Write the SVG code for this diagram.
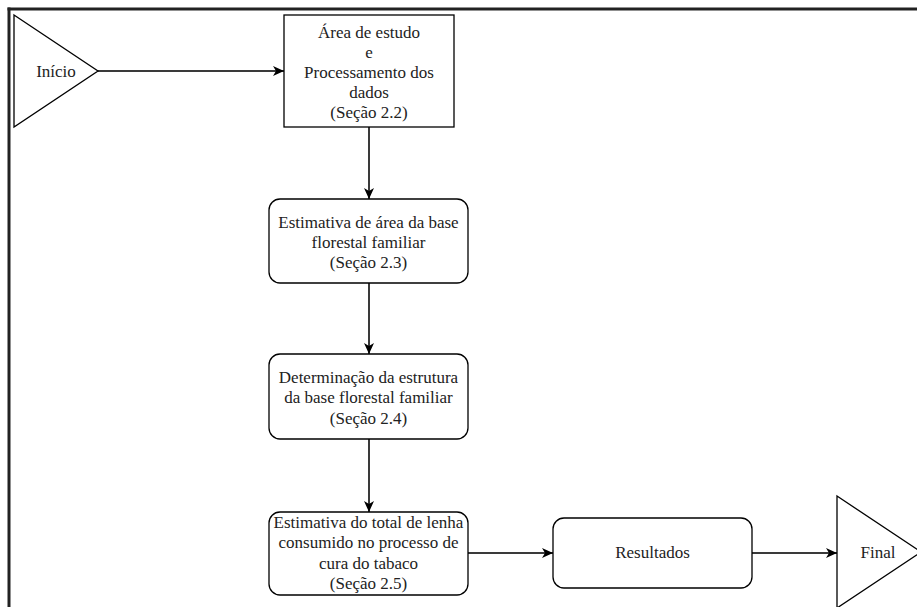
<svg xmlns="http://www.w3.org/2000/svg" width="917" height="607" viewBox="0 0 917 607">
<defs>
<marker id="arr" markerUnits="userSpaceOnUse" markerWidth="12" markerHeight="10" refX="11" refY="5" orient="auto">
<path d="M0,0 L11,5 L0,10 L3,5 Z" fill="#000"/>
</marker>
<style>
.n{fill:#fff;stroke:#000;stroke-width:1.3}
.t{font-family:"Liberation Serif","Times New Roman",serif;font-size:17px;fill:#222;text-anchor:middle}
.c{fill:none;stroke:#3a3a3a;stroke-width:2;marker-end:url(#arr)}
.b{stroke:#222;stroke-width:3;fill:none}
</style>
</defs>
<rect x="0" y="0" width="917" height="607" fill="#fff"/>
<g id="frame">
<line class="b" x1="7.5" y1="9" x2="917" y2="9"/>
<line class="b" x1="9" y1="7.5" x2="9" y2="607"/>
</g>
<g id="connectors">
<path class="c" d="M98,71 L284,71"/>
<path class="c" d="M369,127 L369,199"/>
<path class="c" d="M369,283 L369,354"/>
<path class="c" d="M369,439 L369,512"/>
<path class="c" d="M468,553 L553,553"/>
<path class="c" d="M752,553 L837,553"/>
</g>
<g id="inicio">
<path class="n" d="M14,15 L98,71 L14,127 Z"/>
<text class="t" x="56" y="77">Início</text>
</g>
<g id="area">
<rect class="n" x="284" y="15" width="170" height="112"/>
<text class="t" x="369" y="38">Área de estudo</text>
<text class="t" x="369" y="58">e</text>
<text class="t" x="369" y="78">Processamento dos</text>
<text class="t" x="369" y="98">dados</text>
<text class="t" x="369" y="118">(Seção 2.2)</text>
</g>
<g id="estimativa-area">
<rect class="n" x="269" y="199" width="199" height="84" rx="11"/>
<text class="t" x="368.5" y="228">Estimativa de área da base</text>
<text class="t" x="368.5" y="248">florestal familiar</text>
<text class="t" x="368.5" y="268">(Seção 2.3)</text>
</g>
<g id="estrutura">
<rect class="n" x="269" y="354" width="199" height="85" rx="11"/>
<text class="t" x="368.5" y="383">Determinação da estrutura</text>
<text class="t" x="368.5" y="403">da base florestal familiar</text>
<text class="t" x="368.5" y="424">(Seção 2.4)</text>
</g>
<g id="lenha">
<rect class="n" x="269" y="512" width="199" height="83" rx="11"/>
<text class="t" x="368.5" y="528">Estimativa do total de lenha</text>
<text class="t" x="368.5" y="548">consumido no processo de</text>
<text class="t" x="368.5" y="569">cura do tabaco</text>
<text class="t" x="368.5" y="589">(Seção 2.5)</text>
</g>
<g id="resultados">
<rect class="n" x="553" y="518" width="199" height="70" rx="11"/>
<text class="t" x="652.5" y="558">Resultados</text>
</g>
<g id="final">
<path class="n" d="M837,496 L921,552 L837,608 Z"/>
<text class="t" x="878" y="558">Final</text>
</g>
</svg>
